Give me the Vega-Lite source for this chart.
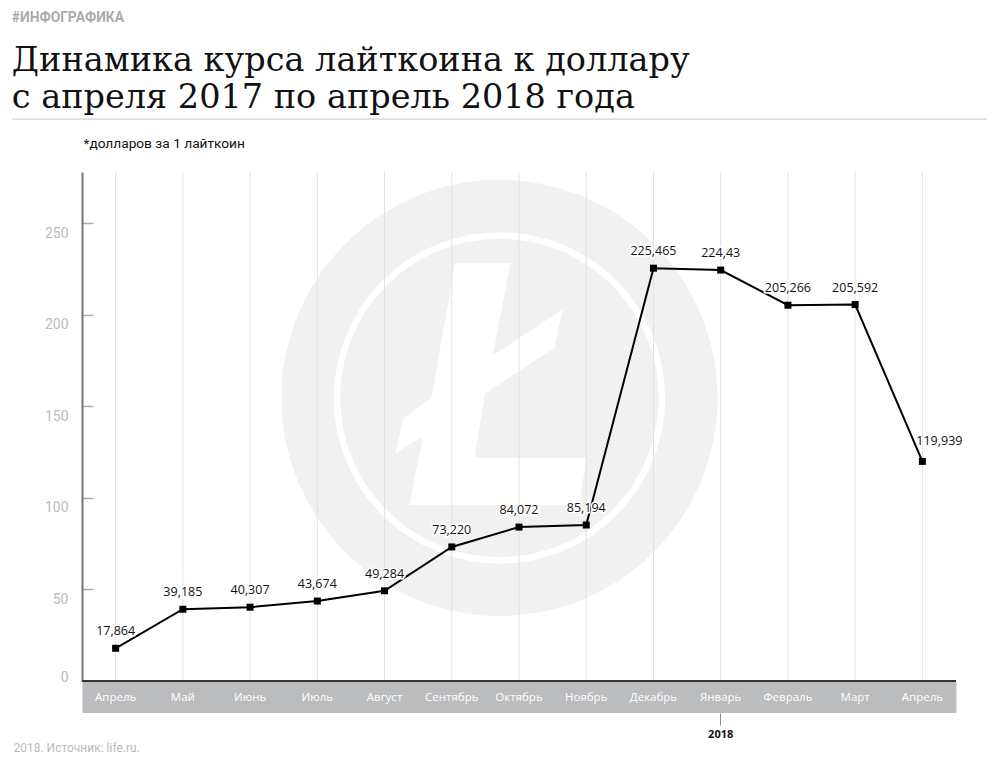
{
  "$schema": "https://vega.github.io/schema/vega-lite/v6.json",
  "width": 874,
  "height": 509,
  "padding": {"left": 11, "top": 11, "right": 12, "bottom": 5},
  "background": "white",
  "config": {"view": {"stroke": null}, "font": "Roboto"},
  "title": {
    "text": "#ИНФОГРАФИКА",
    "subtitle": ["Динамика курса лайткоина к доллару", "с апреля 2017 по апрель 2018 года"],
    "anchor": "start",
    "frame": "bounds",
    "font": "Roboto",
    "fontSize": 13.8,
    "fontWeight": "bold",
    "color": "#aaaaaa",
    "subtitleFont": "DejaVu Serif",
    "subtitleFontSize": 33.5,
    "subtitleColor": "#111111",
    "subtitleLineHeight": 37,
    "subtitlePadding": 20,
    "offset": 4
  },
  "datasets": {
    "ltc": [
      {"month": "Апрель 2017", "value": 17.864, "label": "17,864"},
      {"month": "Май 2017", "value": 39.185, "label": "39,185"},
      {"month": "Июнь 2017", "value": 40.307, "label": "40,307"},
      {"month": "Июль 2017", "value": 43.674, "label": "43,674"},
      {"month": "Август 2017", "value": 49.284, "label": "49,284"},
      {"month": "Сентябрь 2017", "value": 73.22, "label": "73,220"},
      {"month": "Октябрь 2017", "value": 84.072, "label": "84,072"},
      {"month": "Ноябрь 2017", "value": 85.194, "label": "85,194"},
      {"month": "Декабрь 2017", "value": 225.465, "label": "225,465"},
      {"month": "Январь 2018", "value": 224.43, "label": "224,43"},
      {"month": "Февраль 2018", "value": 205.266, "label": "205,266"},
      {"month": "Март 2018", "value": 205.592, "label": "205,592"},
      {"month": "Апрель 2018", "value": 119.939, "label": "119,939"}
    ],
    "single": [{"part": "decoration"}]
  },
  "resolve": {"axis": {"x": "independent"}},
  "layer": [
    {
      "data": {"name": "single"},
      "mark": {"type": "point", "shape": "circle", "filled": true, "fill": "#f1f1f1", "strokeWidth": 0, "opacity": 1, "size": 190096, "xOffset": 47.7},
      "encoding": {
        "x": {"datum": "Сентябрь 2017", "type": "ordinal", "axis": null},
        "y": {"datum": 154.6, "type": "quantitative"}
      }
    },
    {
      "data": {"name": "single"},
      "mark": {"type": "point", "shape": "circle", "filled": false, "stroke": "white", "strokeWidth": 6.5, "opacity": 1, "size": 105625, "xOffset": 47.7},
      "encoding": {
        "x": {"datum": "Сентябрь 2017", "type": "ordinal", "axis": null},
        "y": {"datum": 154.6, "type": "quantitative"}
      }
    },
    {
      "data": {"name": "single"},
      "mark": {"type": "point", "shape": "M-0.203,-0.618 L0.050,-0.618 L-0.031,-0.194 L0.288,-0.404 L0.252,-0.228 L-0.066,-0.022 L-0.115,0.274 L0.398,0.274 L0.367,0.491 L-0.413,0.491 L-0.352,0.178 L-0.477,0.254 L-0.440,0.090 L-0.313,0.001 Z", "filled": true, "fill": "white", "strokeWidth": 0, "opacity": 1, "size": 190096, "xOffset": 47.7},
      "encoding": {
        "x": {"datum": "Сентябрь 2017", "type": "ordinal", "axis": null},
        "y": {"datum": 154.6, "type": "quantitative"}
      }
    },
    {
      "data": {"name": "ltc"},
      "mark": {"type": "rule", "color": "#e2e2e2", "strokeWidth": 1},
      "encoding": {
        "x": {
          "field": "month",
          "type": "ordinal",
          "axis": {
            "orient": "bottom",
            "values": ["Январь 2018"],
            "labelExpr": "split(datum.value, ' ')[1]",
            "offset": 32,
            "domain": false,
            "ticks": true,
            "tickSize": 12,
            "tickColor": "#8a8a8a",
            "tickWidth": 1,
            "grid": false,
            "labelFont": "Open Sans",
            "labelFontSize": 11,
            "labelFontWeight": "bold",
            "labelColor": "#111111",
            "labelPadding": 9,
            "labelBaseline": "middle",
            "labelAngle": 0,
            "title": "2018. Источник: life.ru.",
            "titleX": -69,
            "titleY": 34,
            "titleAlign": "left",
            "titleBaseline": "middle",
            "titleFont": "Roboto",
            "titleFontSize": 12,
            "titleFontWeight": "normal",
            "titleColor": "#bbbbbb"
          }
        }
      }
    },
    {
      "data": {"name": "single"},
      "mark": {"type": "rule", "color": "#333333", "strokeWidth": 2},
      "encoding": {"y": {"datum": 0}}
    },
    {
      "data": {"name": "single"},
      "mark": {"type": "rule", "color": "#c8c8c8", "strokeWidth": 1, "xOffset": -103.3, "x2Offset": 64.7},
      "encoding": {
        "x": {"datum": "Апрель 2017", "type": "ordinal", "axis": null},
        "x2": {"datum": "Апрель 2018"},
        "y": {"datum": 306.9}
      }
    },
    {
      "data": {"name": "ltc"},
      "mark": {"type": "line", "color": "black", "strokeWidth": 2},
      "encoding": {
        "x": {
          "field": "month",
          "type": "ordinal",
          "sort": null,
          "scale": {"domain": ["Апрель 2017", "Май 2017", "Июнь 2017", "Июль 2017", "Август 2017", "Сентябрь 2017", "Октябрь 2017", "Ноябрь 2017", "Декабрь 2017", "Январь 2018", "Февраль 2018", "Март 2018", "Апрель 2018"]},
          "axis": {
            "orient": "bottom",
            "labelExpr": "split(datum.value, ' ')[0]",
            "offset": 16,
            "domain": false,
            "ticks": false,
            "grid": false,
            "zindex": 2,
            "labelColor": "white",
            "labelFont": "Open Sans",
            "labelFontSize": 11.5,
            "labelPadding": 0,
            "labelBaseline": "middle",
            "labelAngle": 0,
            "title": null
          }
        },
        "y": {
          "field": "value",
          "type": "quantitative",
          "scale": {"domain": [0, 278], "nice": false, "zero": true},
          "axis": {
            "values": [0, 50, 100, 150, 200, 250],
            "domain": true,
            "domainColor": "#777777",
            "domainWidth": 2,
            "ticks": true,
            "tickSize": -11,
            "tickColor": "#aaaaaa",
            "tickWidth": 1.5,
            "grid": false,
            "labelColor": "#bbbbbb",
            "labelFont": "Roboto",
            "labelFontSize": 14,
            "labelPadding": 25,
            "labelOffset": {"condition": {"test": "datum.value === 0", "value": -4}, "value": 10},
            "title": "*долларов за 1 лайткоин",
            "titleAngle": 0,
            "titleX": 1,
            "titleY": -29,
            "titleAlign": "left",
            "titleBaseline": "middle",
            "titleFont": "Roboto",
            "titleFontSize": 13.7,
            "titleFontWeight": "normal",
            "titleColor": "#111111"
          }
        }
      }
    },
    {
      "data": {"name": "ltc"},
      "mark": {"type": "point", "shape": "square", "filled": true, "color": "black", "size": 49, "opacity": 1},
      "encoding": {
        "x": {
          "field": "month",
          "type": "ordinal",
          "axis": {
            "orient": "bottom",
            "offset": 16,
            "domain": true,
            "domainColor": "#bbbcbe",
            "domainWidth": 31,
            "ticks": false,
            "labels": false,
            "grid": false,
            "zindex": 0,
            "title": null
          }
        },
        "y": {"field": "value", "type": "quantitative"}
      }
    },
    {
      "data": {"name": "ltc"},
      "transform": [{"filter": "datum.month !== 'Апрель 2018'"}],
      "mark": {"type": "text", "dy": -17, "font": "Open Sans", "fontSize": 12.5, "fill": "white", "stroke": "white", "strokeWidth": 3},
      "encoding": {
        "x": {"field": "month", "type": "ordinal", "axis": null},
        "y": {"field": "value", "type": "quantitative"},
        "text": {"field": "label"}
      }
    },
    {
      "data": {"name": "ltc"},
      "transform": [{"filter": "datum.month !== 'Апрель 2018'"}],
      "mark": {"type": "text", "dy": -17, "font": "Open Sans", "fontSize": 12.5, "color": "#111111"},
      "encoding": {
        "x": {"field": "month", "type": "ordinal", "axis": null},
        "y": {"field": "value", "type": "quantitative"},
        "text": {"field": "label"}
      }
    },
    {
      "data": {"name": "ltc"},
      "transform": [{"filter": "datum.month === 'Апрель 2018'"}],
      "mark": {"type": "text", "dx": 17, "dy": -20, "font": "Open Sans", "fontSize": 12.5, "fill": "white", "stroke": "white", "strokeWidth": 3},
      "encoding": {
        "x": {"field": "month", "type": "ordinal", "axis": null},
        "y": {"field": "value", "type": "quantitative"},
        "text": {"field": "label"}
      }
    },
    {
      "data": {"name": "ltc"},
      "transform": [{"filter": "datum.month === 'Апрель 2018'"}],
      "mark": {"type": "text", "dx": 17, "dy": -20, "font": "Open Sans", "fontSize": 12.5, "color": "#111111"},
      "encoding": {
        "x": {"field": "month", "type": "ordinal", "axis": null},
        "y": {"field": "value", "type": "quantitative"},
        "text": {"field": "label"}
      }
    }
  ]
}
